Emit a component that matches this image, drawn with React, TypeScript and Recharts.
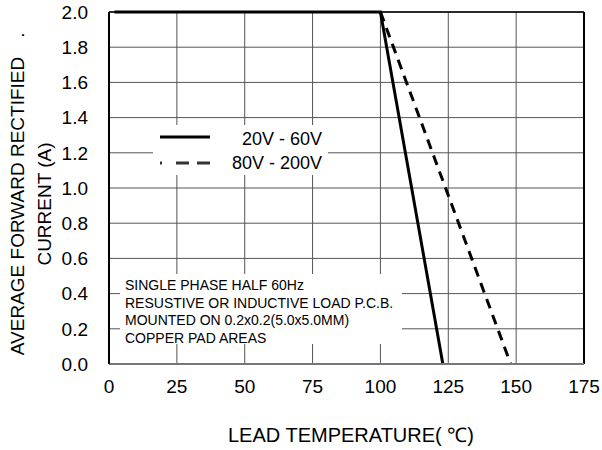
import React from 'react';
import { LineChart, Line, XAxis, YAxis, CartesianGrid, ReferenceLine } from 'recharts';

// Derating curve: forward current vs lead temperature
const FONT = '"Liberation Sans", Arial, Helvetica, sans-serif';

const tempTicks = [0, 25, 50, 75, 100, 125, 150, 175];
const currentTicks = [0, 0.2, 0.4, 0.6, 0.8, 1.0, 1.2, 1.4, 1.6, 1.8, 2.0];

const lowVoltTemp = [2, 100, 123];
const lowVoltCurrent = [2.0, 2.0, 0.0];
const highVoltTemp = [100, 148];
const highVoltCurrent = [2.0, 0.0];

const seriesNames = ['20V - 60V', '80V - 200V'];
const noteLines = [
  'SINGLE PHASE HALF 60Hz',
  'RESUSTIVE OR INDUCTIVE LOAD P.C.B.',
  'MOUNTED ON 0.2x0.2(5.0x5.0MM)',
  'COPPER PAD AREAS',
];

const lowVolt = lowVoltTemp.map((t, i) => ({ temp: t, current: lowVoltCurrent[i] }));
const highVolt = highVoltTemp.map((t, i) => ({ temp: t, current: highVoltCurrent[i] }));

function YTitle() {
  return (
    <g fontFamily={FONT} fontSize={19} fill="#000">
      <text x={24} y={206} textAnchor="middle" transform="rotate(-90, 24, 206)">
        AVERAGE FORWARD RECTIFIED
      </text>
      <text x={24} y={35} textAnchor="middle" transform="rotate(-90, 24, 35)">.</text>
      <text x={51} y={204} textAnchor="middle" transform="rotate(-90, 51, 204)">
        CURRENT (A)
      </text>
    </g>
  );
}

function XTitle() {
  return (
    <text x={228} y={442} textAnchor="start" fontFamily={FONT} fontSize={20} fill="#000">
      LEAD TEMPERATURE( ℃)
    </text>
  );
}

export default function App() {
  return (
    <div style={{ position: 'absolute', left: 0, top: 0, width: 602, height: 450, background: '#fff' }}>
      <LineChart width={602} height={450} margin={{ top: 12, right: 18, bottom: 0, left: 0 }}>
        <CartesianGrid stroke="#555" strokeWidth={1} />
        <XAxis
          type="number"
          dataKey="temp"
          domain={[0, 175]}
          ticks={tempTicks}
          height={86}
          allowDataOverflow
          tickLine={false}
          tickMargin={10}
          axisLine={{ stroke: '#777', strokeWidth: 2 }}
          tick={{ fill: '#000', fontSize: 19, fontFamily: FONT }}
          label={{ content: () => <XTitle /> }}
        />
        <YAxis
          type="number"
          dataKey="current"
          domain={[0, 2]}
          ticks={currentTicks}
          width={109}
          tickLine={false}
          tickMargin={15}
          axisLine={{ stroke: '#000', strokeWidth: 2 }}
          tick={{ fill: '#000', fontSize: 19, fontFamily: FONT }}
          tickFormatter={(v: number) => v.toFixed(1)}
          label={{ content: () => <YTitle /> }}
        />
        <ReferenceLine x={175} stroke="#000" strokeWidth={2} />
        <ReferenceLine y={2} stroke="#000" strokeWidth={1.5} />
        <Line
          data={lowVolt}
          dataKey="current"
          name={seriesNames[0]}
          stroke="#000"
          strokeWidth={3}
          dot={false}
          isAnimationActive={false}
        />
        <Line
          data={highVolt}
          dataKey="current"
          name={seriesNames[1]}
          stroke="#000"
          strokeWidth={3}
          strokeDasharray="10 7"
          dot={false}
          isAnimationActive={false}
        />
      </LineChart>

      {/* legend box */}
      <div style={{ position: 'absolute', left: 153, top: 125, width: 175, height: 50, background: '#fff' }}>
        <svg width={175} height={50} style={{ display: 'block', overflow: 'visible' }}>
          <line x1={7} y1={12} x2={57} y2={12} stroke="#000" strokeWidth={3} />
          <text x={169} y={14} textAnchor="end" dominantBaseline="central" fontFamily={FONT} fontSize={18}>
            {seriesNames[0]}
          </text>
          <line x1={7} y1={38} x2={57} y2={38} stroke="#333" strokeWidth={3} strokeDasharray="2 14 13 8 13" />
          <text x={169} y={38} textAnchor="end" dominantBaseline="central" fontFamily={FONT} fontSize={18}>
            {seriesNames[1]}
          </text>
        </svg>
      </div>

      {/* note box */}
      <div
        style={{
          position: 'absolute',
          left: 120,
          top: 274,
          width: 282,
          height: 70,
          background: '#fff',
          fontFamily: FONT,
          fontSize: 14,
          lineHeight: '17.7px',
          paddingLeft: 5,
          paddingTop: 3,
          boxSizing: 'border-box',
          color: '#000',
        }}
      >
        {noteLines.map((l) => (
          <div key={l} style={{ whiteSpace: 'nowrap' }}>{l}</div>
        ))}
      </div>
    </div>
  );
}
